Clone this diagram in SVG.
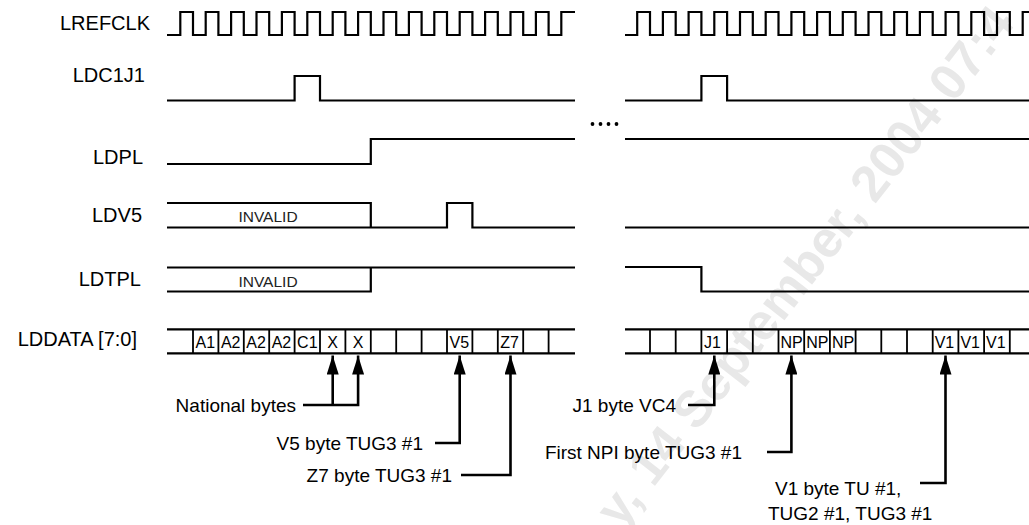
<svg xmlns="http://www.w3.org/2000/svg" width="1029" height="525" viewBox="0 0 1029 525">
<style>
.sig{fill:none;stroke:#000;stroke-width:2.2;stroke-linejoin:miter}
.cellv{stroke:#000;stroke-width:1.8}
.conn{fill:none;stroke:#000;stroke-width:2.6}
.lbl{font-family:"Liberation Sans",Arial,sans-serif;font-size:20px;fill:#000;text-anchor:end}
.cell{font-family:"Liberation Sans",Arial,sans-serif;font-size:16px;fill:#000}
.inv{font-family:"Liberation Sans",Arial,sans-serif;font-size:15.5px;fill:#222;text-anchor:middle}
.ann{font-family:"Liberation Sans",Arial,sans-serif;font-size:19px;fill:#000}
.wm{font-family:"Liberation Sans",Arial,sans-serif;font-size:51px;font-weight:bold;fill:#e8e8e8}
</style>
<defs>
<marker id="ah" markerUnits="userSpaceOnUse" markerWidth="20" markerHeight="12" refX="19" refY="6" orient="auto" viewBox="0 0 20 12">
<path d="M0,0 L19,6 L0,12 z" fill="#000"/>
</marker>
</defs>
<rect width="1029" height="525" fill="#fff"/>
<text class="wm" transform="translate(615,508) rotate(-52)" x="-14" dy="0.35em">y, 14 September, 2004 07:4</text>

<g id="LREFCLK">
<text class="lbl" x="150" y="30">LREFCLK</text>
<path class="sig" d="M167,35 H180.3 V12 H193 V35 H205.7 V12 H218.4 V35 H231.1 V12 H243.8 V35 H256.5 V12 H269.2 V35 H281.9 V12 H294.6 V35 H307.3 V12 H320 V35 H332.7 V12 H345.4 V35 H358.1 V12 H370.8 V35 H383.5 V12 H396.2 V35 H408.9 V12 H421.6 V35 H434.3 V12 H447 V35 H459.7 V12 H472.4 V35 H485.1 V12 H497.8 V35 H510.5 V12 H523.2 V35 H535.9 V12 H548.6 V35 H561.3 V12 H575"/>
<path class="sig" d="M625,35 H637.2 V12 H650 V35 H662.9 V12 H675.7 V35 H688.6 V12 H701.4 V35 H714.3 V12 H727.1 V35 H740 V12 H752.8 V35 H765.7 V12 H778.5 V35 H791.4 V12 H804.2 V35 H817.1 V12 H829.9 V35 H842.8 V12 H855.6 V35 H868.5 V12 H881.3 V35 H894.2 V12 H907 V35 H919.9 V12 H932.7 V35 H945.6 V12 H958.4 V35 H971.3 V12 H984.1 V35 H997 V12 H1009.8 V35 H1022.7 V12 H1030"/>
</g>

<g id="LDC1J1">
<text class="lbl" x="145" y="82">LDC1J1</text>
<path class="sig" d="M167,100.5 H294.6 V76 H320 V100.5 H575"/>
<path class="sig" d="M625,100.5 H701.4 V76 H727.1 V100.5 H1030"/>
</g>

<g id="gap">
<circle cx="592.5" cy="124" r="1.9"/>
<circle cx="600.5" cy="124" r="1.9"/>
<circle cx="608.5" cy="124" r="1.9"/>
<circle cx="616.5" cy="124" r="1.9"/>
</g>

<g id="LDPL">
<text class="lbl" x="143" y="164">LDPL</text>
<path class="sig" d="M167,164 H370.8 V139 H575"/>
<path class="sig" d="M625,139 H1030"/>
</g>

<g id="LDV5">
<text class="lbl" x="142" y="222">LDV5</text>
<path class="sig" d="M167,203 H370.8 V227.5"/>
<path class="sig" d="M167,227.5 H447 V203 H472.4 V227.5 H575"/>
<text class="inv" x="268" y="222">INVALID</text>
<path class="sig" d="M625,227.5 H1030"/>
</g>

<g id="LDTPL">
<text class="lbl" x="141" y="286">LDTPL</text>
<path class="sig" d="M167,267.5 H575"/>
<path class="sig" d="M167,291.5 H370.8 V267.5"/>
<text class="inv" x="268" y="286.5">INVALID</text>
<path class="sig" d="M625,267 H701.4 V291.5 H1030"/>
</g>

<g id="LDDATA">
<text class="lbl" x="137" y="346">LDDATA [7:0]</text>
<path class="sig" d="M167,329.3 H575 M167,353.3 H575 M625,329.3 H1030 M625,353.3 H1030"/>
<path class="cellv" d="M193,329.3 V353.3 M218.4,329.3 V353.3 M243.8,329.3 V353.3 M269.2,329.3 V353.3 M294.6,329.3 V353.3 M320,329.3 V353.3 M345.4,329.3 V353.3 M370.8,329.3 V353.3 M396.2,329.3 V353.3 M421.6,329.3 V353.3 M447,329.3 V353.3 M472.4,329.3 V353.3 M497.8,329.3 V353.3 M523.2,329.3 V353.3 M548.6,329.3 V353.3"/>
<path class="cellv" d="M650,329.3 V353.3 M675.7,329.3 V353.3 M701.4,329.3 V353.3 M727.1,329.3 V353.3 M752.8,329.3 V353.3 M778.5,329.3 V353.3 M804.2,329.3 V353.3 M829.9,329.3 V353.3 M855.6,329.3 V353.3 M881.3,329.3 V353.3 M907,329.3 V353.3 M932.7,329.3 V353.3 M958.4,329.3 V353.3 M984.1,329.3 V353.3 M1009.8,329.3 V353.3"/>
<text class="cell" x="195.5" y="348">A1</text>
<text class="cell" x="220.9" y="348">A2</text>
<text class="cell" x="246.3" y="348">A2</text>
<text class="cell" x="271.7" y="348">A2</text>
<text class="cell" x="297.1" y="348">C1</text>
<text class="cell" x="332.7" y="348" text-anchor="middle">X</text>
<text class="cell" x="358.1" y="348" text-anchor="middle">X</text>
<text class="cell" x="449.5" y="348">V5</text>
<text class="cell" x="500.3" y="348">Z7</text>
<text class="cell" x="703.9" y="348">J1</text>
<text class="cell" x="780.5" y="348">NP</text>
<text class="cell" x="806.2" y="348">NP</text>
<text class="cell" x="831.9" y="348">NP</text>
<text class="cell" x="934.7" y="348">V1</text>
<text class="cell" x="960.4" y="348">V1</text>
<text class="cell" x="986.1" y="348">V1</text>
</g>

<g id="connectors">
<path class="conn" d="M303,405 H358.1 V355.5" marker-end="url(#ah)"/>
<path class="conn" d="M332.7,405 V355.5" marker-end="url(#ah)"/>
<path class="conn" d="M435,443 H459.7 V355.5" marker-end="url(#ah)"/>
<path class="conn" d="M461,475 H510.5 V355.5" marker-end="url(#ah)"/>
<path class="conn" d="M688,405 H714.3 V355.5" marker-end="url(#ah)"/>
<path class="conn" d="M767,452 H791.4 V355.5" marker-end="url(#ah)"/>
<path class="conn" d="M920,483 H945.5 V355.5" marker-end="url(#ah)"/>
</g>

<g id="annotations">
<text class="ann" x="296" y="412" text-anchor="end">National bytes</text>
<text class="ann" x="423" y="450" text-anchor="end">V5 byte TUG3 #1</text>
<text class="ann" x="452" y="482" text-anchor="end">Z7 byte TUG3 #1</text>
<text class="ann" x="676" y="412" text-anchor="end">J1 byte VC4</text>
<text class="ann" x="742" y="459" text-anchor="end">First NPI byte TUG3 #1</text>
<text class="ann" x="775" y="495">V1 byte TU #1,</text>
<text class="ann" x="768" y="520">TUG2 #1, TUG3 #1</text>
</g>
</svg>
